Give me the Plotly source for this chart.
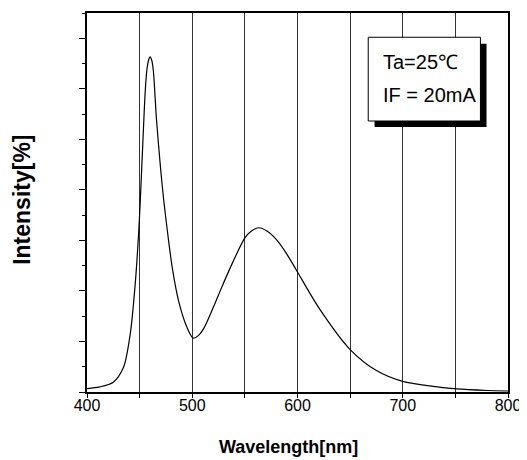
import plotly.graph_objects as go

# Data
wavelength = [400, 412, 425, 434.7, 441.1, 445.8, 449.0, 450.6, 453.1, 455.3, 456.9,
              458.5, 460, 461.5, 463, 466, 470, 473, 476, 481, 487, 495, 501, 506,
              511, 520, 527, 539, 550, 556, 563, 571, 580, 590, 599, 620, 650, 675,
              700, 729, 751, 780, 800]
intensity = [0.013, 0.020, 0.039, 0.098, 0.230, 0.427, 0.624, 0.755, 0.991, 1.188,
             1.275, 1.313, 1.326, 1.313, 1.273, 1.080, 0.880, 0.755, 0.650, 0.492,
             0.361, 0.256, 0.213, 0.224, 0.252, 0.335, 0.405, 0.518, 0.610, 0.636,
             0.650, 0.637, 0.603, 0.545, 0.482, 0.335, 0.168, 0.085, 0.042, 0.022,
             0.012, 0.006, 0.004]
x_tick_vals = [400, 500, 600, 700, 800]
x_tick_text = ["400", "500", "600", "700", "800"]
note_lines = ["Ta=25℃", "IF = 20mA"]

FONT = "Arial, Liberation Sans, sans-serif"

fig = go.Figure()
fig.add_trace(go.Scatter(
    x=wavelength, y=intensity, mode="lines",
    line=dict(color="black", width=1.2, shape="spline", smoothing=0.8),
    showlegend=False, hoverinfo="skip",
))

# page body adds an 8px margin, so the figure is sized to the visible area
fig.update_layout(
    width=519, height=452,
    margin=dict(l=79, r=19, t=3, b=68),
    paper_bgcolor="white", plot_bgcolor="white",
    font=dict(family=FONT, color="black", size=16),
    showlegend=False,
)

fig.update_xaxes(
    range=[400, 800], tickvals=x_tick_vals, ticktext=x_tick_text,
    ticks="outside", ticklen=4, tickwidth=1, tickcolor="black",
    ticklabelstandoff=-6,
    showgrid=True, gridcolor="#333333", gridwidth=1,
    minor=dict(dtick=50, tick0=400, showgrid=True, gridcolor="#333333",
               gridwidth=1, ticks="outside", ticklen=4, tickcolor="black"),
    showline=True, linecolor="black", linewidth=2, mirror=True,
    tickfont=dict(size=16, family=FONT), zeroline=False,
)
fig.update_yaxes(
    range=[0, 1.5], dtick=0.2, tick0=0, showticklabels=False,
    ticks="outside", ticklen=6, tickwidth=1, tickcolor="black",
    minor=dict(dtick=0.1, tick0=0, ticks="outside", ticklen=3, tickcolor="black"),
    showgrid=False, zeroline=False,
    showline=True, linecolor="black", linewidth=2, mirror=True,
)

# Axis titles
fig.add_annotation(text="<b>Wavelength[nm]</b>", xref="paper", yref="paper",
                   x=0.478, y=-0.146, xanchor="center", yanchor="middle",
                   showarrow=False, font=dict(size=18, family=FONT))
fig.add_annotation(text="<b>Intensity[%]</b>", xref="paper", yref="paper",
                   x=-0.1535, y=0.508, xanchor="center", yanchor="middle",
                   textangle=-90, showarrow=False, font=dict(size=23, family=FONT))

# Condition box with shadow
fig.add_shape(type="rect", xref="paper", yref="paper",
              x0=0.683, x1=0.949, y0=0.699, y1=0.919,
              fillcolor="black", line=dict(color="black", width=0), layer="above")
fig.add_shape(type="rect", xref="paper", yref="paper",
              x0=0.668, x1=0.9345, y0=0.715, y1=0.936,
              fillcolor="white", line=dict(color="black", width=1), layer="above")
fig.add_annotation(text=note_lines[0], xref="paper", yref="paper",
                   x=0.698, y=0.871, xanchor="left", yanchor="middle",
                   showarrow=False, font=dict(size=20, family=FONT))
fig.add_annotation(text=note_lines[1], xref="paper", yref="paper",
                   x=0.698, y=0.784, xanchor="left", yanchor="middle",
                   showarrow=False, font=dict(size=20, family=FONT))

fig.write_html("out.html")
